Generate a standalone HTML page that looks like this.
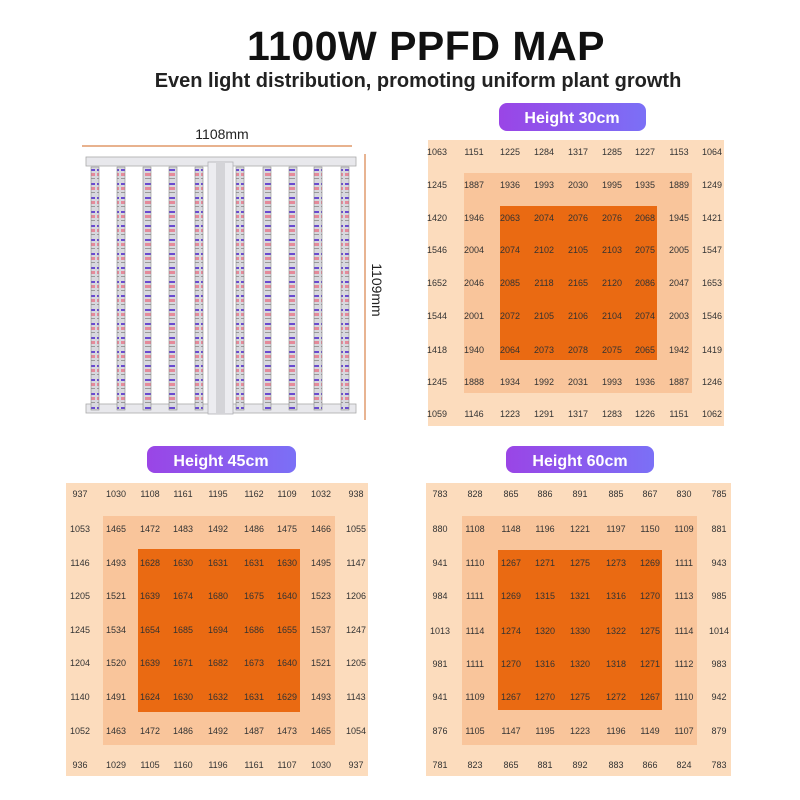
<!DOCTYPE html>
<html><head><meta charset="utf-8"><style>
html,body{margin:0;padding:0;background:#fff;width:800px;height:800px;overflow:hidden}
svg text{font-family:"Liberation Sans",sans-serif}
.n{font-family:"Liberation Serif",serif;font-size:9px;fill:#333;text-anchor:middle}
.pill{font-size:16px;font-weight:bold;fill:#fff;text-anchor:middle}
</style></head><body>
<svg width="800" height="800" viewBox="0 0 800 800" xmlns="http://www.w3.org/2000/svg">
<defs>
<linearGradient id="pg" x1="0" x2="1"><stop offset="0" stop-color="#9a45e6"/><stop offset="1" stop-color="#7b70f6"/></linearGradient>
<pattern id="led" width="8" height="14" patternUnits="userSpaceOnUse">
<rect width="8" height="14" fill="#d8d8de"/><rect x="1" y="1" width="6" height="2" fill="#6a4bd0"/><rect x="1" y="5" width="6" height="3" fill="#e58a9a"/><rect x="1" y="10" width="6" height="1" fill="#999"/>
</pattern>
</defs>
<text x="426" y="60" text-anchor="middle" font-size="41" font-weight="bold" fill="#111" letter-spacing="0.5">1100W PPFD MAP</text>
<text x="418" y="87" text-anchor="middle" font-size="20" font-weight="bold" fill="#222">Even light distribution, promoting uniform plant growth</text>

<!-- fixture -->
<text x="222" y="139" text-anchor="middle" font-size="14" fill="#222">1108mm</text>
<line x1="82" y1="146" x2="352" y2="146" stroke="#d9834a" stroke-width="1.2"/>
<line x1="365" y1="154" x2="365" y2="420" stroke="#d9834a" stroke-width="1.2"/>
<text transform="translate(372,290) rotate(90)" text-anchor="middle" font-size="14" fill="#222">1109mm</text>
<rect x="86" y="157" width="270" height="9" fill="#e8e8ec" stroke="#aaa" stroke-width="0.8"/>
<rect x="86" y="404" width="270" height="9" fill="#e8e8ec" stroke="#aaa" stroke-width="0.8"/>
<rect x="208" y="162" width="25" height="252" fill="#ececf0" stroke="#b0b0b4" stroke-width="0.8"/>
<rect x="216" y="162" width="9" height="252" fill="#d4d4d8"/>
<g stroke="#888" stroke-width="0.6">
<rect x="91" y="167" width="8" height="243" fill="url(#led)"/>
<rect x="117" y="167" width="8" height="243" fill="url(#led)"/>
<rect x="143" y="167" width="8" height="243" fill="url(#led)"/>
<rect x="169" y="167" width="8" height="243" fill="url(#led)"/>
<rect x="195" y="167" width="8" height="243" fill="url(#led)"/>
<rect x="236" y="167" width="8" height="243" fill="url(#led)"/>
<rect x="263" y="167" width="8" height="243" fill="url(#led)"/>
<rect x="289" y="167" width="8" height="243" fill="url(#led)"/>
<rect x="314" y="167" width="8" height="243" fill="url(#led)"/>
<rect x="341" y="167" width="8" height="243" fill="url(#led)"/>
</g>

<!-- pills -->
<rect x="499" y="103" width="147" height="28" rx="8" fill="url(#pg)"/>
<text class="pill" x="572" y="123">Height 30cm</text>
<rect x="147" y="446" width="149" height="27" rx="8" fill="url(#pg)"/>
<text class="pill" x="221" y="466">Height 45cm</text>
<rect x="506" y="446" width="148" height="27" rx="8" fill="url(#pg)"/>
<text class="pill" x="580" y="466">Height 60cm</text>

<!-- grid 30 -->
<rect x="428" y="140" width="296" height="286" fill="#fcdcbd"/>
<rect x="464" y="173" width="228" height="220" fill="#f9c59b"/>
<rect x="500" y="206" width="157" height="154" fill="#ea6a12"/>
<g class="n">
<text y="155"><tspan x="437">1063</tspan><tspan x="474">1151</tspan><tspan x="510">1225</tspan><tspan x="544">1284</tspan><tspan x="578">1317</tspan><tspan x="612">1285</tspan><tspan x="645">1227</tspan><tspan x="679">1153</tspan><tspan x="712">1064</tspan></text>
<text y="188"><tspan x="437">1245</tspan><tspan x="474">1887</tspan><tspan x="510">1936</tspan><tspan x="544">1993</tspan><tspan x="578">2030</tspan><tspan x="612">1995</tspan><tspan x="645">1935</tspan><tspan x="679">1889</tspan><tspan x="712">1249</tspan></text>
<text y="221"><tspan x="437">1420</tspan><tspan x="474">1946</tspan><tspan x="510">2063</tspan><tspan x="544">2074</tspan><tspan x="578">2076</tspan><tspan x="612">2076</tspan><tspan x="645">2068</tspan><tspan x="679">1945</tspan><tspan x="712">1421</tspan></text>
<text y="253"><tspan x="437">1546</tspan><tspan x="474">2004</tspan><tspan x="510">2074</tspan><tspan x="544">2102</tspan><tspan x="578">2105</tspan><tspan x="612">2103</tspan><tspan x="645">2075</tspan><tspan x="679">2005</tspan><tspan x="712">1547</tspan></text>
<text y="286"><tspan x="437">1652</tspan><tspan x="474">2046</tspan><tspan x="510">2085</tspan><tspan x="544">2118</tspan><tspan x="578">2165</tspan><tspan x="612">2120</tspan><tspan x="645">2086</tspan><tspan x="679">2047</tspan><tspan x="712">1653</tspan></text>
<text y="319"><tspan x="437">1544</tspan><tspan x="474">2001</tspan><tspan x="510">2072</tspan><tspan x="544">2105</tspan><tspan x="578">2106</tspan><tspan x="612">2104</tspan><tspan x="645">2074</tspan><tspan x="679">2003</tspan><tspan x="712">1546</tspan></text>
<text y="353"><tspan x="437">1418</tspan><tspan x="474">1940</tspan><tspan x="510">2064</tspan><tspan x="544">2073</tspan><tspan x="578">2078</tspan><tspan x="612">2075</tspan><tspan x="645">2065</tspan><tspan x="679">1942</tspan><tspan x="712">1419</tspan></text>
<text y="385"><tspan x="437">1245</tspan><tspan x="474">1888</tspan><tspan x="510">1934</tspan><tspan x="544">1992</tspan><tspan x="578">2031</tspan><tspan x="612">1993</tspan><tspan x="645">1936</tspan><tspan x="679">1887</tspan><tspan x="712">1246</tspan></text>
<text y="417"><tspan x="437">1059</tspan><tspan x="474">1146</tspan><tspan x="510">1223</tspan><tspan x="544">1291</tspan><tspan x="578">1317</tspan><tspan x="612">1283</tspan><tspan x="645">1226</tspan><tspan x="679">1151</tspan><tspan x="712">1062</tspan></text>
</g>

<!-- grid 45 -->
<rect x="66" y="483" width="302" height="293" fill="#fcdcbd"/>
<rect x="103" y="516" width="232" height="229" fill="#f9c59b"/>
<rect x="138" y="549" width="162" height="163" fill="#ea6a12"/>
<g class="n">
<text y="497"><tspan x="80">937</tspan><tspan x="116">1030</tspan><tspan x="150">1108</tspan><tspan x="183">1161</tspan><tspan x="218">1195</tspan><tspan x="254">1162</tspan><tspan x="287">1109</tspan><tspan x="321">1032</tspan><tspan x="356">938</tspan></text>
<text y="532"><tspan x="80">1053</tspan><tspan x="116">1465</tspan><tspan x="150">1472</tspan><tspan x="183">1483</tspan><tspan x="218">1492</tspan><tspan x="254">1486</tspan><tspan x="287">1475</tspan><tspan x="321">1466</tspan><tspan x="356">1055</tspan></text>
<text y="566"><tspan x="80">1146</tspan><tspan x="116">1493</tspan><tspan x="150">1628</tspan><tspan x="183">1630</tspan><tspan x="218">1631</tspan><tspan x="254">1631</tspan><tspan x="287">1630</tspan><tspan x="321">1495</tspan><tspan x="356">1147</tspan></text>
<text y="599"><tspan x="80">1205</tspan><tspan x="116">1521</tspan><tspan x="150">1639</tspan><tspan x="183">1674</tspan><tspan x="218">1680</tspan><tspan x="254">1675</tspan><tspan x="287">1640</tspan><tspan x="321">1523</tspan><tspan x="356">1206</tspan></text>
<text y="633"><tspan x="80">1245</tspan><tspan x="116">1534</tspan><tspan x="150">1654</tspan><tspan x="183">1685</tspan><tspan x="218">1694</tspan><tspan x="254">1686</tspan><tspan x="287">1655</tspan><tspan x="321">1537</tspan><tspan x="356">1247</tspan></text>
<text y="666"><tspan x="80">1204</tspan><tspan x="116">1520</tspan><tspan x="150">1639</tspan><tspan x="183">1671</tspan><tspan x="218">1682</tspan><tspan x="254">1673</tspan><tspan x="287">1640</tspan><tspan x="321">1521</tspan><tspan x="356">1205</tspan></text>
<text y="700"><tspan x="80">1140</tspan><tspan x="116">1491</tspan><tspan x="150">1624</tspan><tspan x="183">1630</tspan><tspan x="218">1632</tspan><tspan x="254">1631</tspan><tspan x="287">1629</tspan><tspan x="321">1493</tspan><tspan x="356">1143</tspan></text>
<text y="734"><tspan x="80">1052</tspan><tspan x="116">1463</tspan><tspan x="150">1472</tspan><tspan x="183">1486</tspan><tspan x="218">1492</tspan><tspan x="254">1487</tspan><tspan x="287">1473</tspan><tspan x="321">1465</tspan><tspan x="356">1054</tspan></text>
<text y="768"><tspan x="80">936</tspan><tspan x="116">1029</tspan><tspan x="150">1105</tspan><tspan x="183">1160</tspan><tspan x="218">1196</tspan><tspan x="254">1161</tspan><tspan x="287">1107</tspan><tspan x="321">1030</tspan><tspan x="356">937</tspan></text>
</g>

<!-- grid 60 -->
<rect x="426" y="483" width="305" height="293" fill="#fcdcbd"/>
<rect x="462" y="516" width="235" height="229" fill="#f9c59b"/>
<rect x="498" y="550" width="164" height="160" fill="#ea6a12"/>
<g class="n">
<text y="497"><tspan x="440">783</tspan><tspan x="475">828</tspan><tspan x="511">865</tspan><tspan x="545">886</tspan><tspan x="580">891</tspan><tspan x="616">885</tspan><tspan x="650">867</tspan><tspan x="684">830</tspan><tspan x="719">785</tspan></text>
<text y="532"><tspan x="440">880</tspan><tspan x="475">1108</tspan><tspan x="511">1148</tspan><tspan x="545">1196</tspan><tspan x="580">1221</tspan><tspan x="616">1197</tspan><tspan x="650">1150</tspan><tspan x="684">1109</tspan><tspan x="719">881</tspan></text>
<text y="566"><tspan x="440">941</tspan><tspan x="475">1110</tspan><tspan x="511">1267</tspan><tspan x="545">1271</tspan><tspan x="580">1275</tspan><tspan x="616">1273</tspan><tspan x="650">1269</tspan><tspan x="684">1111</tspan><tspan x="719">943</tspan></text>
<text y="599"><tspan x="440">984</tspan><tspan x="475">1111</tspan><tspan x="511">1269</tspan><tspan x="545">1315</tspan><tspan x="580">1321</tspan><tspan x="616">1316</tspan><tspan x="650">1270</tspan><tspan x="684">1113</tspan><tspan x="719">985</tspan></text>
<text y="634"><tspan x="440">1013</tspan><tspan x="475">1114</tspan><tspan x="511">1274</tspan><tspan x="545">1320</tspan><tspan x="580">1330</tspan><tspan x="616">1322</tspan><tspan x="650">1275</tspan><tspan x="684">1114</tspan><tspan x="719">1014</tspan></text>
<text y="667"><tspan x="440">981</tspan><tspan x="475">1111</tspan><tspan x="511">1270</tspan><tspan x="545">1316</tspan><tspan x="580">1320</tspan><tspan x="616">1318</tspan><tspan x="650">1271</tspan><tspan x="684">1112</tspan><tspan x="719">983</tspan></text>
<text y="700"><tspan x="440">941</tspan><tspan x="475">1109</tspan><tspan x="511">1267</tspan><tspan x="545">1270</tspan><tspan x="580">1275</tspan><tspan x="616">1272</tspan><tspan x="650">1267</tspan><tspan x="684">1110</tspan><tspan x="719">942</tspan></text>
<text y="734"><tspan x="440">876</tspan><tspan x="475">1105</tspan><tspan x="511">1147</tspan><tspan x="545">1195</tspan><tspan x="580">1223</tspan><tspan x="616">1196</tspan><tspan x="650">1149</tspan><tspan x="684">1107</tspan><tspan x="719">879</tspan></text>
<text y="768"><tspan x="440">781</tspan><tspan x="475">823</tspan><tspan x="511">865</tspan><tspan x="545">881</tspan><tspan x="580">892</tspan><tspan x="616">883</tspan><tspan x="650">866</tspan><tspan x="684">824</tspan><tspan x="719">783</tspan></text>
</g>
</svg>
</body></html>
